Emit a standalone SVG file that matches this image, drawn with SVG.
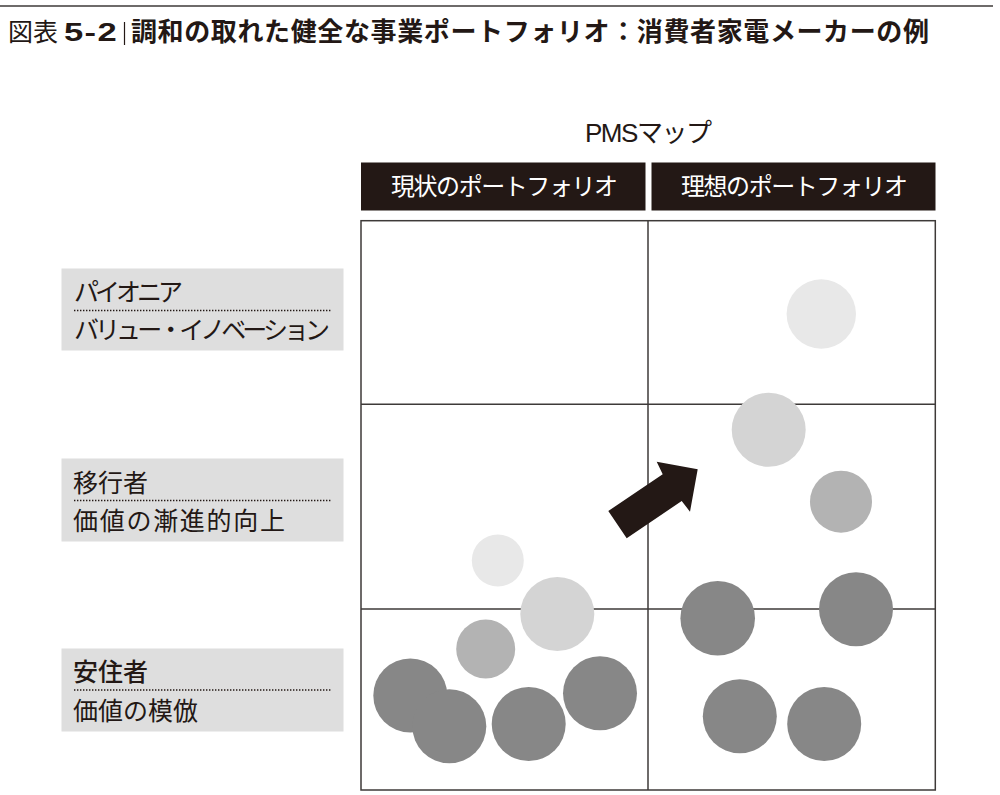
<svg xmlns="http://www.w3.org/2000/svg" width="1000" height="795" viewBox="0 0 1000 795">
<style>
text{font-family:"Noto Sans CJK JP","Noto Sans CJK SC",sans-serif;fill:#231815}
.lat{font-family:"Liberation Sans","Noto Sans CJK JP",sans-serif}
.lbl{font-size:25px}
.hdr{font-size:24px;fill:#ffffff}
.box{fill:#dedede}
.hbox{fill:#231815}
.dot{stroke:#231815;stroke-width:1.6;stroke-dasharray:1.4 1.6;fill:none}
.grid{stroke:#3e3a39;stroke-width:1.5;fill:none}
.c1{fill:#878787}
.c2{fill:#b3b3b3}
.c3{fill:#d4d4d4}
.c4{fill:#e8e8e8}
</style>
<rect x="0" y="0" width="1000" height="795" fill="#ffffff"/>
<g id="title">
<line x1="0" y1="6" x2="993" y2="6" stroke="#3e3a39" stroke-width="1.5"/>
<text x="8" y="41" font-size="25">図表</text>
<text class="lat" x="0" y="0" font-size="26" font-weight="bold" letter-spacing="1" transform="translate(64,41) scale(1.33,1)">5-2</text>
<line x1="124.5" y1="22" x2="124.5" y2="45" stroke="#231815" stroke-width="1.2"/>
<text x="131" y="41" font-size="26" font-weight="bold" textLength="798" lengthAdjust="spacing">調和の取れた健全な事業ポートフォリオ：消費者家電メーカーの例</text>
</g>
<g id="pms-title">
<text class="lat" x="585" y="142" font-size="26" textLength="127" lengthAdjust="spacing">PMSマップ</text>
</g>
<g id="header-current">
<rect class="hbox" x="361" y="162.5" width="284.5" height="48"/>
<text class="hdr" x="391" y="195" textLength="227" lengthAdjust="spacing">現状のポートフォリオ</text>
</g>
<g id="header-ideal">
<rect class="hbox" x="651.5" y="162.5" width="284" height="48"/>
<text class="hdr" x="681" y="195" textLength="227" lengthAdjust="spacing">理想のポートフォリオ</text>
</g>
<g id="label-pioneer">
<rect class="box" x="61.5" y="268.5" width="282" height="82"/>
<text class="lbl" x="74" y="301" textLength="109" lengthAdjust="spacing">パイオニア</text>
<line class="dot" x1="74" y1="310.5" x2="332" y2="310.5"/>
<text class="lbl" x="74" y="339" textLength="256" lengthAdjust="spacing">バリュー・イノベーション</text>
</g>
<g id="label-migrator">
<rect class="box" x="61.5" y="458.5" width="282" height="83"/>
<text class="lbl" x="73" y="492">移行者</text>
<line class="dot" x1="74" y1="500.5" x2="332" y2="500.5"/>
<text class="lbl" x="73" y="530" textLength="212" lengthAdjust="spacing">価値の漸進的向上</text>
</g>
<g id="label-settler">
<rect class="box" x="61.5" y="648.5" width="282" height="83"/>
<text class="lbl" x="73" y="681" font-weight="500">安住者</text>
<line class="dot" x1="74" y1="690" x2="332" y2="690"/>
<text class="lbl" x="73" y="720">価値の模倣</text>
</g>
<g id="grid">
<rect class="grid" x="361" y="220.7" width="574.3" height="569.3"/>
<line class="grid" x1="648" y1="220.7" x2="648" y2="790"/>
<line class="grid" x1="361" y1="404.3" x2="935.3" y2="404.3"/>
<line class="grid" x1="361" y1="609" x2="935.3" y2="609"/>
</g>
<g id="current-portfolio">
<circle class="c4" cx="497.8" cy="560.5" r="26"/>
<circle class="c3" cx="557.3" cy="614" r="37"/>
<circle class="c2" cx="485.7" cy="649" r="29.5"/>
<circle class="c1" cx="410.3" cy="695.5" r="37"/>
<circle class="c1" cx="449.3" cy="726.3" r="37"/>
<circle class="c1" cx="528.7" cy="724" r="37"/>
<circle class="c1" cx="600" cy="693.3" r="37"/>
</g>
<g id="ideal-portfolio">
<circle class="c4" cx="821.3" cy="314" r="34.7"/>
<circle class="c3" cx="768.7" cy="429.8" r="37"/>
<circle class="c2" cx="841" cy="501.7" r="31"/>
<circle class="c1" cx="717.7" cy="618.3" r="37.3"/>
<circle class="c1" cx="856" cy="609.2" r="37"/>
<circle class="c1" cx="739.8" cy="716.3" r="37"/>
<circle class="c1" cx="824.2" cy="724" r="37"/>
</g>
<g id="connectors">
<polygon points="608.3,511 626.7,538.3 681.7,501 690,511.7 697.7,469.3 656.7,461.7 662.7,474.3" fill="#231815"/>
</g>
</svg>
